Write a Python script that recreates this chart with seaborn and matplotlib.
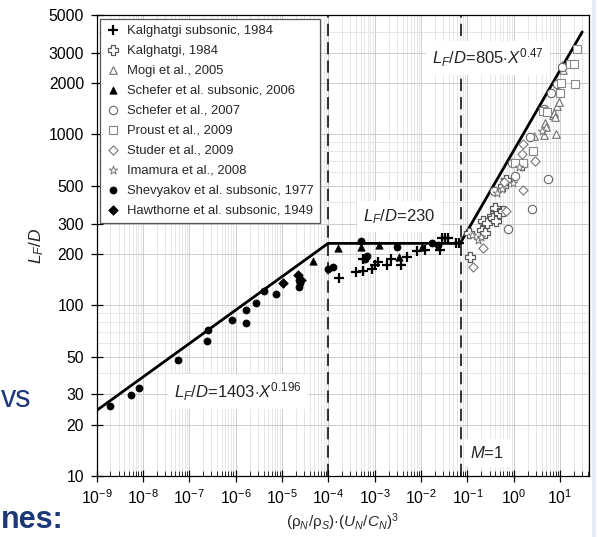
import numpy as np
import pandas as pd
import matplotlib
matplotlib.use("Agg")
import matplotlib.pyplot as plt
import matplotlib.ticker as mticker
import seaborn as sns

# ---------------- data ----------------
kalg_sub_x = [1.72e-4, 3.96e-4, 5.7e-4, 5.7e-4, 8.6e-4, 1.02e-3, 1.2e-3, 1.82e-3, 2.22e-3,
              3.7e-3, 5.06e-3, 8.1e-3, 0.0122, 0.0257, 0.0279, 0.0329, 0.0388, 0.057, 0.067]
kalg_sub_y = [144, 156, 158.5, 186, 162, 172, 180, 172, 186,
              172, 192, 208, 210, 210, 247, 247, 247, 230, 230]

kalg_x = [0.11, 0.114, 0.204, 0.24, 0.22, 0.26, 0.335, 0.362, 0.414, 0.394, 0.489, 0.596, 0.596, 0.681, 1.49]
kalg_y = [266, 192, 275, 263, 313, 304, 333, 323, 313, 369, 348, 357, 499, 541, 662]

mogi_x = [2.74, 4.5, 4.72, 4.9, 7.13, 7.39, 7.9, 8.17, 8.7, 9.6, 10.8, 11.7]
mogi_y = [980, 996, 1162, 1110, 1300, 1330, 1270, 1005, 1472, 1553, 2547, 2382]

schefer_sub_x = [4.75e-5, 1.6e-4, 5.1e-4, 1.24e-3, 3.3e-3, 0.0104]
schefer_sub_y = [182, 215, 220, 225, 192, 218]

schefer_x = [0.375, 0.741, 0.904, 1.06, 2.24, 2.44, 4.56, 5.41, 6.4, 8.7, 11.2]
schefer_y = [468, 278, 677, 570, 971, 364, 1409, 548, 1741, 1980, 2489]

proust_x = [1.06, 1.6, 2.55, 4.35, 5.3, 9.96, 10.3, 16.4, 20.2, 20.9, 22.8]
proust_y = [677, 683, 803, 1377, 1358, 1741, 1991, 2572, 2572, 1964, 3162]

studer_x = [0.13, 0.22, 0.62, 0.67, 1.61, 1.49, 1.56, 2.9]
studer_y = [168, 215, 529, 357, 473, 768, 879, 700]

imamura_x = [0.125, 0.172, 0.2, 0.43, 0.55, 0.95, 1.32, 4.0]
imamura_y = [258, 241, 250, 456, 477, 517, 647, 1047]

shev_x = [2.0e-9, 5.5e-9, 8.4e-9, 5.8e-8, 2.5e-7, 2.45e-7, 8.5e-7, 1.68e-6, 1.68e-6, 2.7e-6,
          4.0e-6, 7.5e-6, 2.35e-5, 2.45e-5, 2.33e-5, 1.0e-4, 1.24e-4, 5.1e-4, 6.7e-4, 6.2e-4,
          3.0e-3, 0.017, 0.0236]
shev_y = [25.8, 29.9, 32.9, 48, 71.6, 61.5, 81.6, 94.1, 78.3, 102.6,
          121.7, 116.4, 141, 134, 127, 162, 167, 236, 194, 186,
          218, 230, 225]

hawth_x = [1.04e-5, 2.19e-5, 2.55e-5]
hawth_y = [134, 150, 140]

# correlation parameters shown on the chart
fit1_a, fit1_b = 1403, 0.196
plateau = 230
fit2_a, fit2_b = 805, 0.47
x_min_fit, x_max_fit = 1e-9, 30
x_dash1, x_dash_m1 = 1e-4, 0.072

y_ticks = [10, 20, 30, 50, 100, 200, 300, 500, 1000, 2000, 3000, 5000]
x_ticks = [10.0 ** k for k in range(-9, 2)]

# ---------------- style ----------------
sns.set_theme(style="white")
plt.rcParams['font.family'] = ['Liberation Sans', 'DejaVu Sans']
plt.rcParams['mathtext.fontset'] = 'custom'
plt.rcParams['mathtext.rm'] = 'Liberation Sans'
plt.rcParams['mathtext.it'] = 'Liberation Sans:italic'
plt.rcParams['mathtext.bf'] = 'Liberation Sans:bold'
plt.rcParams['axes.unicode_minus'] = True

fig = plt.figure(figsize=(5.98, 5.37), dpi=100)
ax = fig.add_axes([0.1614, 0.1136, 0.8236, 0.8585])
ax.set_xscale('log')
ax.set_yscale('log')

series = [
    ("Kalghatgi subsonic, 1984", kalg_sub_x, kalg_sub_y, dict(marker='+', color='black', s=45, linewidth=1.6)),
    ("Kalghatgi, 1984", kalg_x, kalg_y, dict(marker='P', color='white', edgecolor='#5a5a5a', s=42, linewidth=0.9)),
    ("Mogi et al., 2005", mogi_x, mogi_y, dict(marker='^', color='white', edgecolor='#707070', s=30, linewidth=0.8)),
    ("Schefer et al. subsonic, 2006", schefer_sub_x, schefer_sub_y, dict(marker='^', color='black', edgecolor='black', s=28, linewidth=0.5)),
    ("Schefer et al., 2007", schefer_x, schefer_y, dict(marker='o', color='white', edgecolor='#666666', s=36, linewidth=0.8)),
    ("Proust et al., 2009", proust_x, proust_y, dict(marker='s', color='white', edgecolor='#888888', s=36, linewidth=0.8)),
    ("Studer et al., 2009", studer_x, studer_y, dict(marker='D', color='white', edgecolor='#777777', s=22, linewidth=0.8)),
    ("Imamura et al., 2008", imamura_x, imamura_y, dict(marker='*', color='white', edgecolor='#777777', s=40, linewidth=0.7)),
    ("Shevyakov et al. subsonic, 1977", shev_x, shev_y, dict(marker='o', color='black', edgecolor='black', s=26, linewidth=0.5)),
    ("Hawthorne et al. subsonic, 1949", hawth_x, hawth_y, dict(marker='D', color='black', edgecolor='black', s=24, linewidth=0.5)),
]

# grid
ax.grid(True, which='major', color='#c4c4c4', linewidth=0.6, zorder=0)
ax.grid(True, which='minor', color='#dcdcdc', linewidth=0.5, zorder=0)
ax.set_axisbelow(True)

# dashed vertical lines
for xv in (x_dash1, x_dash_m1):
    ax.axvline(xv, color='black', linewidth=1.1, dashes=(8, 4), zorder=2)

# correlation lines
x_break1 = (plateau / fit1_a) ** (1.0 / fit1_b)
x_break2 = (plateau / fit2_a) ** (1.0 / fit2_b)
fit_df = pd.DataFrame({
    'x': [x_min_fit, x_break1, x_break2, x_max_fit],
    'y': [fit1_a * x_min_fit ** fit1_b, plateau, plateau, fit2_a * x_max_fit ** fit2_b],
})
sns.lineplot(data=fit_df, x='x', y='y', ax=ax, color='black', linewidth=2.0, sort=False,
             estimator=None, zorder=3, legend=False)

for label, xs, ys, kw in series:
    sns.scatterplot(x=xs, y=ys, ax=ax, label=label, zorder=4, **kw)

ax.set_xlim(1e-9, 42)
ax.set_ylim(10, 5000)

# ticks
ax.xaxis.set_major_locator(mticker.FixedLocator(x_ticks))
ax.xaxis.set_major_formatter(mticker.LogFormatterSciNotation())
ax.xaxis.set_minor_locator(mticker.LogLocator(base=10, subs=np.arange(2, 10), numticks=30))
ax.xaxis.set_minor_formatter(mticker.NullFormatter())
ax.yaxis.set_major_locator(mticker.FixedLocator(y_ticks))
ax.yaxis.set_major_formatter(mticker.FixedFormatter([str(v) for v in y_ticks]))
ax.yaxis.set_minor_locator(mticker.LogLocator(base=10, subs=np.arange(2, 10), numticks=30))
ax.yaxis.set_minor_formatter(mticker.NullFormatter())
ax.tick_params(axis='both', which='major', direction='inout', length=8, width=0.9,
               labelsize=11.3, colors='black', left=True, bottom=True, pad=5)
ax.tick_params(axis='x', which='minor', direction='in', length=3.5, width=0.7, bottom=True)
ax.tick_params(axis='y', which='minor', length=0)

for sp in ax.spines.values():
    sp.set_color('black')
    sp.set_linewidth(0.9)

ax.set_xlabel(r'($\mathrm{\rho}_N$/$\mathrm{\rho}_S$)·($U_N$/$C_N$)$^3$', fontsize=11, labelpad=3)
ax.set_ylabel(r'$L_F/D$', fontsize=12.5, labelpad=2)

# annotations
box = dict(boxstyle='square,pad=0.35', fc='white', ec='none')
ax.text(0.28, 2800, r'$L_F/D$=805$\cdot X^{0.47}$', fontsize=12, ha='center', va='center', bbox=box, zorder=6)
ax.text(3.4e-3, 330, r'$L_F/D$=230', fontsize=12, ha='center', va='center', bbox=box, zorder=6)
ax.text(1.13e-6, 31.2, r'$L_F/D$=1403$\cdot X^{0.196}$', fontsize=12, ha='center', va='center', bbox=box, zorder=6)
ax.text(0.27, 13.6, r'$M$=1', fontsize=12, ha='center', va='center', bbox=box, zorder=6)

leg = ax.legend(loc='upper left', fontsize=9.4, frameon=True, fancybox=False, framealpha=1,
                edgecolor='#555555', borderaxespad=0.3, handletextpad=0.5, handlelength=1.1,
                borderpad=0.45, labelspacing=0.6, scatterpoints=1)
leg.get_frame().set_linewidth(0.9)
leg.set_zorder(10)

# slide text fragments around the chart
fig.text(0.001, 1 - 406.7 / 537, 'vs', fontsize=22, color='#1c3878', ha='left', va='baseline')
fig.text(0.001, 1 - 528 / 537, 'nes:', fontsize=22, fontweight='bold', color='#1c3878', ha='left', va='baseline')
fig.add_artist(plt.Line2D([0.994, 0.994], [0, 1], color='#e3ebf6', linewidth=3, transform=fig.transFigure))

fig.savefig('out.png', dpi=100)
